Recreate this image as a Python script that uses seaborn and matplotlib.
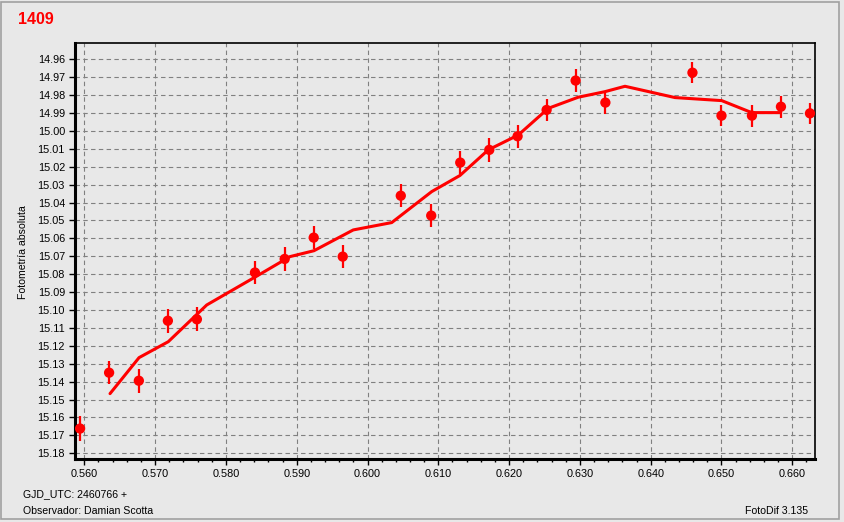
import numpy as np
import pandas as pd
import matplotlib
matplotlib.use("Agg")
import matplotlib.pyplot as plt
from matplotlib.patches import Rectangle
from matplotlib.ticker import MultipleLocator, FormatStrFormatter
import seaborn as sns

# observed points (GJD - 2460766, absolute photometry, error)
obs_x = [0.5594, 0.5635, 0.5677, 0.5718, 0.5759, 0.5841, 0.5883, 0.5924, 0.5965,
         0.6047, 0.6090, 0.6131, 0.6172, 0.6212, 0.6253, 0.6294, 0.6336, 0.6459,
         0.6500, 0.6543, 0.6584, 0.6625]
obs_mag = [15.1662, 15.1350, 15.1395, 15.1060, 15.1052, 15.0791, 15.0715, 15.0596, 15.0702,
           15.0362, 15.0473, 15.0177, 15.0106, 15.0030, 14.9883, 14.9719, 14.9842, 14.9675,
           14.9915, 14.9915, 14.9865, 14.9902]
obs_err = [0.0069, 0.0065, 0.0068, 0.0066, 0.0068, 0.0065, 0.0065, 0.0065, 0.0065,
           0.0065, 0.0065, 0.0066, 0.0065, 0.0065, 0.0063, 0.0063, 0.0062, 0.0060,
           0.0060, 0.0062, 0.0062, 0.0060]

# smoothed curve
fit_x = [0.56363, 0.56773, 0.57186, 0.57729, 0.58439, 0.58905, 0.59244, 0.59799,
         0.60342, 0.60907, 0.61306, 0.61706, 0.62130, 0.62554, 0.62977, 0.63354,
         0.63637, 0.64343, 0.65003, 0.65427, 0.65836]
fit_mag = [15.1467, 15.1266, 15.1177, 15.0972, 15.0810, 15.0702, 15.0669, 15.0553,
           15.0512, 15.0339, 15.0249, 15.0106, 15.0023, 14.9874, 14.9812, 14.9781,
           14.9751, 14.9814, 14.9831, 14.9898, 14.9898]

bg = "#E8E8E8"
sns.set_theme(style="ticks")
plt.rcParams["font.family"] = ["Liberation Sans", "DejaVu Sans"]

fig = plt.figure(figsize=(8.44, 5.22), dpi=100, facecolor=bg)
ax = fig.add_axes([74.7 / 844, 1 - 459 / 522, (815 - 74.7) / 844, (459 - 43.3) / 522])
ax.set_facecolor(bg)

pts = pd.DataFrame({"x": obs_x, "mag": obs_mag})
fit = pd.DataFrame({"x": fit_x, "mag": fit_mag})

ax.errorbar(obs_x, obs_mag, yerr=obs_err, fmt="none", ecolor="red", elinewidth=1.6, capsize=0, zorder=3)
sns.lineplot(data=fit, x="x", y="mag", ax=ax, color="red", lw=2.2, sort=False, zorder=4)
sns.scatterplot(data=pts, x="x", y="mag", ax=ax, color="red", s=55, edgecolor="none", zorder=5)

ax.set_xlim(0.55864, 0.66321)
ax.set_ylim(15.1832, 14.9511)

ax.xaxis.set_major_locator(MultipleLocator(0.01))
ax.xaxis.set_minor_locator(MultipleLocator(0.002))
ax.xaxis.set_major_formatter(FormatStrFormatter("%.3f"))
ax.yaxis.set_major_locator(MultipleLocator(0.01))
ax.yaxis.set_major_formatter(FormatStrFormatter("%.2f"))

ax.tick_params(axis="both", which="major", direction="out", length=4, width=1, colors="black",
               labelsize=7.8, pad=3)
ax.tick_params(axis="x", which="minor", direction="out", length=2.5, width=1, colors="black")
ax.tick_params(axis="y", which="minor", left=False)

ax.grid(True, which="major", color="#808080", lw=0.8, linestyle=(0, (4, 3)))
ax.set_axisbelow(True)

for side in ["left", "bottom"]:
    ax.spines[side].set_linewidth(2.2)
    ax.spines[side].set_color("black")
for side in ["top", "right"]:
    ax.spines[side].set_linewidth(1.2)
    ax.spines[side].set_color("black")
    ax.spines[side].set_visible(True)

ax.set_xlabel("")
ax.set_ylabel("")

fig.text(22.7 / 844, 1 - 252.5 / 522, "Fotometría absoluta", rotation=90, ha="center", va="center",
         fontsize=7.6, color="black")
fig.text(18 / 844, 1 - 19 / 522, "1409", ha="left", va="center", fontsize=11.5, fontweight="bold",
         color="red")
fig.text(22.7 / 844, 1 - 494 / 522, "GJD_UTC: 2460766 +", ha="left", va="center", fontsize=7.6,
         color="black")
fig.text(22.7 / 844, 1 - 510.5 / 522, "Observador: Damian Scotta", ha="left", va="center",
         fontsize=7.6, color="black")
fig.text(808 / 844, 1 - 510.5 / 522, "FotoDif 3.135", ha="right", va="center", fontsize=7.6,
         color="black")

# outer frame of the window
fig.patches.append(Rectangle((1 / 844, 3 / 522), 838 / 844, 517 / 522, transform=fig.transFigure,
                             fill=False, edgecolor="#A0A0A0", lw=1.2))

fig.savefig("out.png", dpi=100, facecolor=bg)
